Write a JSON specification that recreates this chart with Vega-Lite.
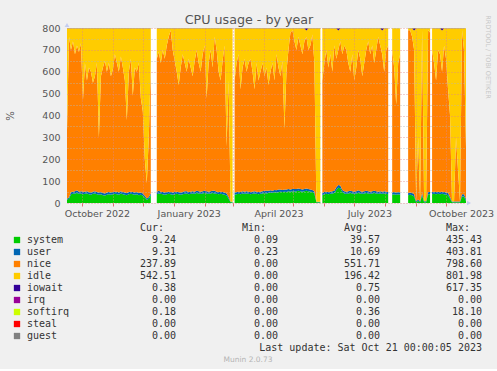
{
"$schema": "https://vega.github.io/schema/vega-lite/v6.json",
"background": "#F0F0F0",
"padding": {"left": 5, "top": 13, "right": 5, "bottom": 5},
"bounds": "flush",
"spacing": 25,
"config": {"view": {"stroke": null}, "font": "DejaVu Sans"},
"vconcat": [
{
"width": 399, "height": 175,
"view": {"fill": "white", "stroke": null},
"data": {"values": [
{"t":"2022-09-16","g":1,"system":15,"user":5,"nice":310,"idle":468,"iowait":0.5,"softirq":1.5},
{"t":"2022-09-18","g":1,"system":20,"user":6,"nice":734,"idle":38,"iowait":0.5,"softirq":1.5},
{"t":"2022-09-20","g":1,"system":40,"user":10,"nice":650,"idle":98,"iowait":0.5,"softirq":1.5},
{"t":"2022-09-22","g":1,"system":42,"user":10,"nice":688,"idle":58,"iowait":0.5,"softirq":1.5},
{"t":"2022-09-24","g":1,"system":44,"user":10,"nice":626,"idle":118,"iowait":0.5,"softirq":1.5},
{"t":"2022-09-26","g":1,"system":46,"user":12,"nice":662,"idle":78,"iowait":0.5,"softirq":1.5},
{"t":"2022-09-28","g":1,"system":42,"user":10,"nice":638,"idle":108,"iowait":0.5,"softirq":1.5},
{"t":"2022-09-30","g":1,"system":44,"user":10,"nice":676,"idle":68,"iowait":0.5,"softirq":1.5},
{"t":"2022-10-02","g":1,"system":40,"user":12,"nice":418,"idle":328,"iowait":0.5,"softirq":1.5},
{"t":"2022-10-04","g":1,"system":42,"user":10,"nice":588,"idle":158,"iowait":0.5,"softirq":1.5},
{"t":"2022-10-06","g":1,"system":44,"user":10,"nice":506,"idle":238,"iowait":0.5,"softirq":1.5},
{"t":"2022-10-08","g":1,"system":40,"user":10,"nice":570,"idle":178,"iowait":0.5,"softirq":1.5},
{"t":"2022-10-10","g":1,"system":38,"user":10,"nice":552,"idle":198,"iowait":0.5,"softirq":1.5},
{"t":"2022-10-12","g":1,"system":42,"user":10,"nice":498,"idle":248,"iowait":0.5,"softirq":1.5},
{"t":"2022-10-14","g":1,"system":44,"user":10,"nice":526,"idle":218,"iowait":0.5,"softirq":1.5},
{"t":"2022-10-16","g":1,"system":40,"user":10,"nice":590,"idle":158,"iowait":0.5,"softirq":1.5},
{"t":"2022-10-18","g":1,"system":38,"user":10,"nice":252,"idle":498,"iowait":0.5,"softirq":1.5},
{"t":"2022-10-20","g":1,"system":40,"user":10,"nice":530,"idle":218,"iowait":0.5,"softirq":1.5},
{"t":"2022-10-22","g":1,"system":36,"user":10,"nice":574,"idle":178,"iowait":0.5,"softirq":1.5},
{"t":"2022-10-24","g":1,"system":34,"user":10,"nice":606,"idle":148,"iowait":0.5,"softirq":1.5},
{"t":"2022-10-26","g":1,"system":38,"user":10,"nice":552,"idle":198,"iowait":0.5,"softirq":1.5},
{"t":"2022-10-28","g":1,"system":40,"user":10,"nice":590,"idle":158,"iowait":0.5,"softirq":1.5},
{"t":"2022-10-30","g":1,"system":38,"user":10,"nice":532,"idle":218,"iowait":0.5,"softirq":1.5},
{"t":"2022-11-01","g":1,"system":40,"user":10,"nice":560,"idle":188,"iowait":0.5,"softirq":1.5},
{"t":"2022-11-03","g":1,"system":42,"user":10,"nice":628,"idle":118,"iowait":0.5,"softirq":1.5},
{"t":"2022-11-05","g":1,"system":40,"user":12,"nice":588,"idle":158,"iowait":0.5,"softirq":1.5},
{"t":"2022-11-07","g":1,"system":38,"user":10,"nice":552,"idle":198,"iowait":0.5,"softirq":1.5},
{"t":"2022-11-09","g":1,"system":44,"user":10,"nice":616,"idle":128,"iowait":0.5,"softirq":1.5},
{"t":"2022-11-11","g":1,"system":40,"user":10,"nice":570,"idle":178,"iowait":0.5,"softirq":1.5},
{"t":"2022-11-13","g":1,"system":38,"user":10,"nice":512,"idle":238,"iowait":0.5,"softirq":1.5},
{"t":"2022-11-15","g":1,"system":36,"user":10,"nice":334,"idle":418,"iowait":0.5,"softirq":1.5},
{"t":"2022-11-17","g":1,"system":40,"user":10,"nice":550,"idle":198,"iowait":0.5,"softirq":1.5},
{"t":"2022-11-19","g":1,"system":42,"user":10,"nice":608,"idle":138,"iowait":0.5,"softirq":1.5},
{"t":"2022-11-21","g":1,"system":40,"user":10,"nice":440,"idle":308,"iowait":0.5,"softirq":1.5},
{"t":"2022-11-23","g":1,"system":38,"user":10,"nice":572,"idle":178,"iowait":0.5,"softirq":1.5},
{"t":"2022-11-25","g":1,"system":40,"user":10,"nice":550,"idle":198,"iowait":0.5,"softirq":1.5},
{"t":"2022-11-27","g":1,"system":36,"user":10,"nice":594,"idle":158,"iowait":0.5,"softirq":1.5},
{"t":"2022-11-29","g":1,"system":38,"user":10,"nice":432,"idle":318,"iowait":0.5,"softirq":1.5},
{"t":"2022-12-01","g":1,"system":34,"user":10,"nice":376,"idle":378,"iowait":0.5,"softirq":1.5},
{"t":"2022-12-03","g":1,"system":25,"user":8,"nice":167,"idle":598,"iowait":0.5,"softirq":1.5},
{"t":"2022-12-05","g":1,"system":15,"user":6,"nice":69,"idle":708,"iowait":0.5,"softirq":1.5},
{"t":"2022-12-07","g":1,"system":20,"user":8,"nice":272,"idle":498,"iowait":0.5,"softirq":1.5},
{"t":"2022-12-09","g":1,"system":35,"user":10,"nice":595,"idle":158,"iowait":0.5,"softirq":1.5},
{"t":"2022-12-15","g":2,"system":40,"user":12,"nice":608,"idle":138,"iowait":0.5,"softirq":1.5},
{"t":"2022-12-17","g":2,"system":44,"user":12,"nice":634,"idle":108,"iowait":0.5,"softirq":1.5},
{"t":"2022-12-19","g":2,"system":42,"user":10,"nice":588,"idle":158,"iowait":0.5,"softirq":1.5},
{"t":"2022-12-21","g":2,"system":40,"user":10,"nice":650,"idle":98,"iowait":0.5,"softirq":1.5},
{"t":"2022-12-23","g":2,"system":38,"user":10,"nice":612,"idle":138,"iowait":0.5,"softirq":1.5},
{"t":"2022-12-25","g":2,"system":40,"user":10,"nice":670,"idle":78,"iowait":0.5,"softirq":1.5},
{"t":"2022-12-27","g":2,"system":42,"user":10,"nice":708,"idle":38,"iowait":0.5,"softirq":1.5},
{"t":"2022-12-29","g":2,"system":40,"user":10,"nice":740,"idle":8,"iowait":0.5,"softirq":1.5},
{"t":"2022-12-31","g":2,"system":38,"user":10,"nice":652,"idle":98,"iowait":0.5,"softirq":1.5},
{"t":"2023-01-02","g":2,"system":40,"user":10,"nice":600,"idle":148,"iowait":0.5,"softirq":1.5},
{"t":"2023-01-04","g":2,"system":42,"user":10,"nice":548,"idle":198,"iowait":0.5,"softirq":1.5},
{"t":"2023-01-06","g":2,"system":40,"user":10,"nice":490,"idle":258,"iowait":0.5,"softirq":1.5},
{"t":"2023-01-08","g":2,"system":38,"user":10,"nice":572,"idle":178,"iowait":0.5,"softirq":1.5},
{"t":"2023-01-10","g":2,"system":40,"user":10,"nice":630,"idle":118,"iowait":0.5,"softirq":1.5},
{"t":"2023-01-12","g":2,"system":42,"user":12,"nice":586,"idle":158,"iowait":0.5,"softirq":1.5},
{"t":"2023-01-14","g":2,"system":44,"user":10,"nice":546,"idle":198,"iowait":0.5,"softirq":1.5},
{"t":"2023-01-16","g":2,"system":40,"user":10,"nice":610,"idle":138,"iowait":0.5,"softirq":1.5},
{"t":"2023-01-18","g":2,"system":42,"user":10,"nice":568,"idle":178,"iowait":0.5,"softirq":1.5},
{"t":"2023-01-20","g":2,"system":44,"user":10,"nice":526,"idle":218,"iowait":0.5,"softirq":1.5},
{"t":"2023-01-22","g":2,"system":42,"user":10,"nice":598,"idle":148,"iowait":0.5,"softirq":1.5},
{"t":"2023-01-24","g":2,"system":46,"user":10,"nice":644,"idle":98,"iowait":0.5,"softirq":1.5},
{"t":"2023-01-26","g":2,"system":44,"user":10,"nice":586,"idle":158,"iowait":0.5,"softirq":1.5},
{"t":"2023-01-28","g":2,"system":42,"user":10,"nice":548,"idle":198,"iowait":0.5,"softirq":1.5},
{"t":"2023-01-30","g":2,"system":44,"user":10,"nice":626,"idle":118,"iowait":0.5,"softirq":1.5},
{"t":"2023-02-01","g":2,"system":46,"user":10,"nice":664,"idle":78,"iowait":0.5,"softirq":1.5},
{"t":"2023-02-03","g":2,"system":44,"user":10,"nice":426,"idle":318,"iowait":0.5,"softirq":1.5},
{"t":"2023-02-05","g":2,"system":42,"user":10,"nice":588,"idle":158,"iowait":0.5,"softirq":1.5},
{"t":"2023-02-07","g":2,"system":44,"user":10,"nice":646,"idle":98,"iowait":0.5,"softirq":1.5},
{"t":"2023-02-09","g":2,"system":46,"user":10,"nice":564,"idle":178,"iowait":0.5,"softirq":1.5},
{"t":"2023-02-11","g":2,"system":44,"user":12,"nice":704,"idle":38,"iowait":0.5,"softirq":1.5},
{"t":"2023-02-13","g":2,"system":42,"user":10,"nice":648,"idle":98,"iowait":0.5,"softirq":1.5},
{"t":"2023-02-15","g":2,"system":40,"user":10,"nice":550,"idle":198,"iowait":0.5,"softirq":1.5},
{"t":"2023-02-17","g":2,"system":42,"user":10,"nice":508,"idle":238,"iowait":0.5,"softirq":1.5},
{"t":"2023-02-19","g":2,"system":40,"user":10,"nice":600,"idle":148,"iowait":0.5,"softirq":1.5},
{"t":"2023-02-21","g":2,"system":38,"user":10,"nice":672,"idle":78,"iowait":0.5,"softirq":1.5},
{"t":"2023-02-23","g":2,"system":34,"user":10,"nice":216,"idle":538,"iowait":0.5,"softirq":1.5},
{"t":"2023-02-25","g":2,"system":20,"user":8,"nice":532,"idle":238,"iowait":0.5,"softirq":1.5},
{"t":"2023-02-27","g":2,"system":3,"user":3,"nice":0,"idle":792,"iowait":0.5,"softirq":1.5},
{"t":"2023-03-01","g":2,"system":3,"user":3,"nice":0,"idle":792,"iowait":0.5,"softirq":1.5},
{"t":"2023-03-03","g":3,"system":38,"user":10,"nice":512,"idle":238,"iowait":0.5,"softirq":1.5},
{"t":"2023-03-05","g":3,"system":40,"user":10,"nice":590,"idle":158,"iowait":0.5,"softirq":1.5},
{"t":"2023-03-07","g":3,"system":42,"user":10,"nice":628,"idle":118,"iowait":0.5,"softirq":1.5},
{"t":"2023-03-09","g":3,"system":40,"user":10,"nice":470,"idle":278,"iowait":0.5,"softirq":1.5},
{"t":"2023-03-11","g":3,"system":44,"user":10,"nice":566,"idle":178,"iowait":0.5,"softirq":1.5},
{"t":"2023-03-13","g":3,"system":42,"user":10,"nice":608,"idle":138,"iowait":0.5,"softirq":1.5},
{"t":"2023-03-15","g":3,"system":44,"user":10,"nice":546,"idle":198,"iowait":0.5,"softirq":1.5},
{"t":"2023-03-17","g":3,"system":42,"user":10,"nice":588,"idle":158,"iowait":0.5,"softirq":1.5},
{"t":"2023-03-19","g":3,"system":40,"user":10,"nice":610,"idle":138,"iowait":0.5,"softirq":1.5},
{"t":"2023-03-21","g":3,"system":42,"user":10,"nice":548,"idle":198,"iowait":0.5,"softirq":1.5},
{"t":"2023-03-23","g":3,"system":44,"user":10,"nice":466,"idle":278,"iowait":0.5,"softirq":1.5},
{"t":"2023-03-25","g":3,"system":42,"user":10,"nice":588,"idle":158,"iowait":0.5,"softirq":1.5},
{"t":"2023-03-27","g":3,"system":40,"user":10,"nice":510,"idle":238,"iowait":0.5,"softirq":1.5},
{"t":"2023-03-29","g":3,"system":42,"user":10,"nice":548,"idle":198,"iowait":0.5,"softirq":1.5},
{"t":"2023-03-31","g":3,"system":44,"user":10,"nice":586,"idle":158,"iowait":0.5,"softirq":1.5},
{"t":"2023-04-02","g":3,"system":46,"user":10,"nice":524,"idle":218,"iowait":0.5,"softirq":1.5},
{"t":"2023-04-04","g":3,"system":44,"user":12,"nice":564,"idle":178,"iowait":0.5,"softirq":1.5},
{"t":"2023-04-06","g":3,"system":46,"user":10,"nice":484,"idle":258,"iowait":0.5,"softirq":1.5},
{"t":"2023-04-08","g":3,"system":48,"user":10,"nice":542,"idle":198,"iowait":0.5,"softirq":1.5},
{"t":"2023-04-10","g":3,"system":46,"user":10,"nice":584,"idle":158,"iowait":0.5,"softirq":1.5},
{"t":"2023-04-12","g":3,"system":50,"user":10,"nice":500,"idle":238,"iowait":0.5,"softirq":1.5},
{"t":"2023-04-14","g":3,"system":48,"user":10,"nice":622,"idle":118,"iowait":0.5,"softirq":1.5},
{"t":"2023-04-16","g":3,"system":50,"user":12,"nice":558,"idle":178,"iowait":0.5,"softirq":1.5},
{"t":"2023-04-18","g":3,"system":52,"user":10,"nice":518,"idle":218,"iowait":0.5,"softirq":1.5},
{"t":"2023-04-20","g":3,"system":50,"user":10,"nice":590,"idle":148,"iowait":0.5,"softirq":1.5},
{"t":"2023-04-22","g":3,"system":52,"user":10,"nice":278,"idle":458,"iowait":0.5,"softirq":1.5},
{"t":"2023-04-24","g":3,"system":50,"user":12,"nice":538,"idle":198,"iowait":0.5,"softirq":1.5},
{"t":"2023-04-26","g":3,"system":54,"user":10,"nice":636,"idle":98,"iowait":0.5,"softirq":1.5},
{"t":"2023-04-28","g":3,"system":52,"user":10,"nice":718,"idle":18,"iowait":0.5,"softirq":1.5},
{"t":"2023-04-30","g":3,"system":54,"user":10,"nice":726,"idle":8,"iowait":0.5,"softirq":1.5},
{"t":"2023-05-02","g":3,"system":52,"user":12,"nice":676,"idle":58,"iowait":0.5,"softirq":1.5},
{"t":"2023-05-04","g":3,"system":54,"user":10,"nice":636,"idle":98,"iowait":0.5,"softirq":1.5},
{"t":"2023-05-06","g":3,"system":56,"user":10,"nice":694,"idle":38,"iowait":0.5,"softirq":1.5},
{"t":"2023-05-08","g":3,"system":54,"user":10,"nice":656,"idle":78,"iowait":0.5,"softirq":1.5},
{"t":"2023-05-10","g":3,"system":52,"user":10,"nice":618,"idle":118,"iowait":0.5,"softirq":1.5},
{"t":"2023-05-12","g":3,"system":54,"user":10,"nice":676,"idle":58,"iowait":0.5,"softirq":1.5},
{"t":"2023-05-14","g":3,"system":56,"user":10,"nice":694,"idle":28.5,"iowait":10,"softirq":1.5},
{"t":"2023-05-16","g":3,"system":54,"user":10,"nice":636,"idle":98,"iowait":0.5,"softirq":1.5},
{"t":"2023-05-18","g":3,"system":52,"user":10,"nice":658,"idle":78,"iowait":0.5,"softirq":1.5},
{"t":"2023-05-20","g":3,"system":50,"user":10,"nice":710,"idle":28,"iowait":0.5,"softirq":1.5},
{"t":"2023-05-22","g":3,"system":44,"user":10,"nice":586,"idle":158,"iowait":0.5,"softirq":1.5},
{"t":"2023-05-24","g":3,"system":3,"user":3,"nice":0,"idle":792,"iowait":0.5,"softirq":1.5},
{"t":"2023-05-26","g":3,"system":3,"user":3,"nice":0,"idle":792,"iowait":0.5,"softirq":1.5},
{"t":"2023-05-28","g":3,"system":3,"user":3,"nice":0,"idle":792,"iowait":0.5,"softirq":1.5},
{"t":"2023-05-30","g":4,"system":36,"user":10,"nice":514,"idle":238,"iowait":0.5,"softirq":1.5},
{"t":"2023-06-01","g":4,"system":40,"user":10,"nice":590,"idle":158,"iowait":0.5,"softirq":1.5},
{"t":"2023-06-03","g":4,"system":42,"user":10,"nice":648,"idle":98,"iowait":0.5,"softirq":1.5},
{"t":"2023-06-05","g":4,"system":40,"user":10,"nice":570,"idle":178,"iowait":0.5,"softirq":1.5},
{"t":"2023-06-07","g":4,"system":42,"user":10,"nice":628,"idle":118,"iowait":0.5,"softirq":1.5},
{"t":"2023-06-09","g":4,"system":44,"user":10,"nice":546,"idle":198,"iowait":0.5,"softirq":1.5},
{"t":"2023-06-11","g":4,"system":46,"user":10,"nice":664,"idle":78,"iowait":0.5,"softirq":1.5},
{"t":"2023-06-13","g":4,"system":60,"user":12,"nice":588,"idle":138,"iowait":0.5,"softirq":1.5},
{"t":"2023-06-15","g":4,"system":70,"user":12,"nice":618,"idle":88.5,"iowait":10,"softirq":1.5},
{"t":"2023-06-17","g":4,"system":68,"user":12,"nice":660,"idle":58,"iowait":0.5,"softirq":1.5},
{"t":"2023-06-19","g":4,"system":50,"user":10,"nice":620,"idle":118,"iowait":0.5,"softirq":1.5},
{"t":"2023-06-21","g":4,"system":44,"user":10,"nice":666,"idle":78,"iowait":0.5,"softirq":1.5},
{"t":"2023-06-23","g":4,"system":42,"user":10,"nice":648,"idle":98,"iowait":0.5,"softirq":1.5},
{"t":"2023-06-25","g":4,"system":44,"user":10,"nice":586,"idle":158,"iowait":0.5,"softirq":1.5},
{"t":"2023-06-27","g":4,"system":46,"user":10,"nice":544,"idle":198,"iowait":0.5,"softirq":1.5},
{"t":"2023-06-29","g":4,"system":44,"user":10,"nice":626,"idle":118,"iowait":0.5,"softirq":1.5},
{"t":"2023-07-01","g":4,"system":42,"user":10,"nice":508,"idle":238,"iowait":0.5,"softirq":1.5},
{"t":"2023-07-03","g":4,"system":44,"user":10,"nice":566,"idle":178,"iowait":0.5,"softirq":1.5},
{"t":"2023-07-05","g":4,"system":46,"user":12,"nice":642,"idle":98,"iowait":0.5,"softirq":1.5},
{"t":"2023-07-07","g":4,"system":44,"user":10,"nice":606,"idle":138,"iowait":0.5,"softirq":1.5},
{"t":"2023-07-09","g":4,"system":42,"user":10,"nice":528,"idle":218,"iowait":0.5,"softirq":1.5},
{"t":"2023-07-11","g":4,"system":44,"user":10,"nice":586,"idle":158,"iowait":0.5,"softirq":1.5},
{"t":"2023-07-13","g":4,"system":46,"user":10,"nice":644,"idle":98,"iowait":0.5,"softirq":1.5},
{"t":"2023-07-15","g":4,"system":44,"user":10,"nice":686,"idle":58,"iowait":0.5,"softirq":1.5},
{"t":"2023-07-17","g":4,"system":42,"user":10,"nice":628,"idle":118,"iowait":0.5,"softirq":1.5},
{"t":"2023-07-19","g":4,"system":44,"user":10,"nice":666,"idle":78,"iowait":0.5,"softirq":1.5},
{"t":"2023-07-21","g":4,"system":46,"user":10,"nice":584,"idle":158,"iowait":0.5,"softirq":1.5},
{"t":"2023-07-23","g":4,"system":44,"user":10,"nice":646,"idle":98,"iowait":0.5,"softirq":1.5},
{"t":"2023-07-25","g":4,"system":42,"user":10,"nice":708,"idle":38,"iowait":0.5,"softirq":1.5},
{"t":"2023-07-27","g":4,"system":44,"user":10,"nice":666,"idle":78,"iowait":0.5,"softirq":1.5},
{"t":"2023-07-29","g":4,"system":42,"user":10,"nice":628,"idle":108.5,"iowait":10,"softirq":1.5},
{"t":"2023-07-31","g":4,"system":44,"user":10,"nice":546,"idle":198,"iowait":0.5,"softirq":1.5},
{"t":"2023-08-02","g":4,"system":42,"user":10,"nice":648,"idle":98,"iowait":0.5,"softirq":1.5},
{"t":"2023-08-04","g":4,"system":40,"user":10,"nice":670,"idle":78,"iowait":0.5,"softirq":1.5},
{"t":"2023-08-08","g":5,"system":38,"user":10,"nice":652,"idle":98,"iowait":0.5,"softirq":1.5},
{"t":"2023-08-10","g":5,"system":40,"user":10,"nice":570,"idle":178,"iowait":0.5,"softirq":1.5},
{"t":"2023-08-12","g":5,"system":38,"user":10,"nice":402,"idle":348,"iowait":0.5,"softirq":1.5},
{"t":"2023-08-14","g":5,"system":40,"user":10,"nice":590,"idle":158,"iowait":0.5,"softirq":1.5},
{"t":"2023-08-16","g":5,"system":38,"user":10,"nice":632,"idle":118,"iowait":0.5,"softirq":1.5},
{"t":"2023-08-24","g":6,"system":36,"user":10,"nice":744,"idle":8,"iowait":0.5,"softirq":1.5},
{"t":"2023-08-26","g":6,"system":38,"user":10,"nice":742,"idle":8,"iowait":0.5,"softirq":1.5},
{"t":"2023-08-28","g":6,"system":36,"user":10,"nice":714,"idle":38,"iowait":0.5,"softirq":1.5},
{"t":"2023-08-30","g":6,"system":30,"user":10,"nice":660,"idle":88.5,"iowait":10,"softirq":1.5},
{"t":"2023-09-01","g":6,"system":4,"user":4,"nice":0,"idle":790,"iowait":0.5,"softirq":1.5},
{"t":"2023-09-03","g":6,"system":10,"user":6,"nice":284,"idle":498,"iowait":0.5,"softirq":1.5},
{"t":"2023-09-05","g":6,"system":4,"user":4,"nice":0,"idle":790,"iowait":0.5,"softirq":1.5},
{"t":"2023-09-07","g":6,"system":36,"user":10,"nice":744,"idle":8,"iowait":0.5,"softirq":1.5},
{"t":"2023-09-09","g":6,"system":4,"user":4,"nice":0,"idle":790,"iowait":0.5,"softirq":1.5},
{"t":"2023-09-11","g":6,"system":4,"user":4,"nice":0,"idle":790,"iowait":0.5,"softirq":1.5},
{"t":"2023-09-13","g":6,"system":40,"user":10,"nice":740,"idle":8,"iowait":0.5,"softirq":1.5},
{"t":"2023-09-15","g":6,"system":40,"user":10,"nice":730,"idle":18,"iowait":0.5,"softirq":1.5},
{"t":"2023-09-17","g":7,"system":40,"user":10,"nice":650,"idle":98,"iowait":0.5,"softirq":1.5},
{"t":"2023-09-19","g":7,"system":42,"user":10,"nice":588,"idle":158,"iowait":0.5,"softirq":1.5},
{"t":"2023-09-21","g":7,"system":40,"user":10,"nice":510,"idle":238,"iowait":0.5,"softirq":1.5},
{"t":"2023-09-23","g":7,"system":42,"user":10,"nice":648,"idle":98,"iowait":0.5,"softirq":1.5},
{"t":"2023-09-25","g":7,"system":40,"user":10,"nice":630,"idle":118,"iowait":0.5,"softirq":1.5},
{"t":"2023-09-27","g":7,"system":42,"user":10,"nice":548,"idle":188.5,"iowait":10,"softirq":1.5},
{"t":"2023-09-29","g":7,"system":40,"user":10,"nice":670,"idle":78,"iowait":0.5,"softirq":1.5},
{"t":"2023-10-01","g":7,"system":38,"user":10,"nice":612,"idle":138,"iowait":0.5,"softirq":1.5},
{"t":"2023-10-03","g":7,"system":36,"user":10,"nice":474,"idle":278,"iowait":0.5,"softirq":1.5},
{"t":"2023-10-05","g":7,"system":20,"user":8,"nice":372,"idle":398,"iowait":0.5,"softirq":1.5},
{"t":"2023-10-07","g":7,"system":3,"user":4,"nice":0,"idle":791,"iowait":0.5,"softirq":1.5},
{"t":"2023-10-09","g":7,"system":3,"user":4,"nice":0,"idle":791,"iowait":0.5,"softirq":1.5},
{"t":"2023-10-11","g":7,"system":3,"user":4,"nice":293,"idle":498,"iowait":0.5,"softirq":1.5},
{"t":"2023-10-13","g":7,"system":3,"user":4,"nice":143,"idle":648,"iowait":0.5,"softirq":1.5},
{"t":"2023-10-15","g":7,"system":3,"user":4,"nice":0,"idle":791,"iowait":0.5,"softirq":1.5},
{"t":"2023-10-17","g":7,"system":30,"user":10,"nice":750,"idle":8,"iowait":0.5,"softirq":1.5},
{"t":"2023-10-19","g":7,"system":30,"user":10,"nice":660,"idle":98,"iowait":0.5,"softirq":1.5},
{"t":"2023-10-21","g":7,"system":9.24,"user":9.31,"nice":237.89,"idle":542.51,"iowait":0.38,"softirq":0.18}
]},
"layer": [
{
"transform": [
{"fold": ["system","user","nice","idle","iowait","softirq"], "as": ["k","v"]},
{"lookup": "k", "from": {"data": {"values": [{"k":"system","o":1},{"k":"user","o":2},{"k":"nice","o":3},{"k":"idle","o":4},{"k":"iowait","o":5},{"k":"softirq","o":6}]}, "key": "k", "fields": ["o"]}}
],
"encoding": {
"x": {"field": "t", "type": "temporal",
 "scale": {"domain": [{"year":2022,"month":9,"date":16,"utc":true},{"year":2023,"month":10,"date":21,"utc":true}]},
 "axis": {"title": null,
  "values": [{"year":2022,"month":10,"date":1,"utc":true},{"year":2022,"month":11,"date":1,"utc":true},{"year":2022,"month":12,"date":1,"utc":true},{"year":2023,"month":1,"date":1,"utc":true},{"year":2023,"month":2,"date":1,"utc":true},{"year":2023,"month":3,"date":1,"utc":true},{"year":2023,"month":4,"date":1,"utc":true},{"year":2023,"month":5,"date":1,"utc":true},{"year":2023,"month":6,"date":1,"utc":true},{"year":2023,"month":7,"date":1,"utc":true},{"year":2023,"month":8,"date":1,"utc":true},{"year":2023,"month":9,"date":1,"utc":true},{"year":2023,"month":10,"date":1,"utc":true}],
  "labelExpr": "utcmonth(datum.value) % 3 == 0 ? utcFormat(datum.value, '%B %Y') : ''",
  "labelOffset": 15, "labelFlush": false, "labelOverlap": false,
  "labelFont": "DejaVu Sans", "labelFontSize": 9.5, "labelColor": "#555555", "labelPadding": 2,
  "tickColor": "#E07070", "tickSize": 3, "domain": false,
  "grid": true, "gridColor": "#E08888", "gridDash": [1,2], "gridOpacity": 0.8, "zindex": 1}},
"y": {"field": "v", "type": "quantitative", "stack": "zero",
 "scale": {"domain": [0,800], "nice": false},
 "axis": {"values": [0,50,100,150,200,250,300,350,400,450,500,550,600,650,700,750,800],
  "labelExpr": "datum.value % 100 == 0 ? datum.label : ''",
  "title": "%", "titleX": -57, "titleY": 87.5, "titleAngle": -90, "titleAlign": "center", "titleBaseline": "middle",
  "titleFont": "DejaVu Sans", "titleFontSize": 10, "titleFontWeight": "normal", "titleColor": "#555555",
  "labelFont": "DejaVu Sans", "labelFontSize": 9.5, "labelColor": "#555555", "labelPadding": 7, "labelFlush": false,
  "ticks": false, "domain": false, "grid": true,
  "gridColor": {"condition": {"test": "datum.value % 100 == 0", "value": "#E08888"}, "value": "#B8B8B8"},
  "gridDash": [1,2], "gridOpacity": 0.8, "zindex": 1}},
"color": {"field": "k", "type": "nominal",
 "scale": {"domain": ["system","user","nice","idle","iowait","irq","softirq","steal","guest"], "range": ["#00CC00","#0066B3","#FF8000","#FFCC00","#330099","#990099","#CCFF00","#FF0000","#808080"]},
 "legend": null},
"order": {"field": "o", "type": "quantitative"}
},
"layer": [
{"transform": [{"filter": "datum.g == 1"}], "mark": {"type": "area", "interpolate": "linear"}},
{"transform": [{"filter": "datum.g == 2"}], "mark": {"type": "area", "interpolate": "linear"}},
{"transform": [{"filter": "datum.g == 3"}], "mark": {"type": "area", "interpolate": "linear"}},
{"transform": [{"filter": "datum.g == 4"}], "mark": {"type": "area", "interpolate": "linear"}},
{"transform": [{"filter": "datum.g == 5"}], "mark": {"type": "area", "interpolate": "linear"}},
{"transform": [{"filter": "datum.g == 6"}], "mark": {"type": "area", "interpolate": "linear"}},
{"transform": [{"filter": "datum.g == 7"}], "mark": {"type": "area", "interpolate": "linear"}}
]
},
{
"data": {"values": [{"a": 1}]},
"mark": {"type": "point", "opacity": 0},
"encoding": {
"x": {"datum": {"year":2023,"month":1,"date":1,"utc":true}, "type": "temporal",
 "axis": {"orient": "top", "title": "CPU usage - by year", "labels": false, "ticks": false, "domain": false, "grid": false,
  "titleX": 181.5, "titleY": -5, "titleAlign": "center", "titleBaseline": "alphabetic",
  "titleFont": "DejaVu Sans", "titleFontSize": 12.7, "titleFontWeight": "normal", "titleColor": "#555555"}},
"y": {"datum": 0, "type": "quantitative",
 "axis": {"orient": "right", "title": "RRDTOOL / TOBI OETIKER", "labels": false, "ticks": false, "domain": false, "grid": false,
  "titleX": 21, "titleY": 28.5, "titleAngle": 90, "titleAlign": "center", "titleBaseline": "middle",
  "titleFont": "DejaVu Sans", "titleFontSize": 6.5, "titleFontWeight": "normal", "titleColor": "#C8C8C8"}}
}
},
{
"data": {"values": [{"a": 1}]},
"mark": {"type": "point", "shape": "triangle-up", "filled": true, "size": 22, "opacity": 1, "color": "#C4CCF0", "yOffset": -3},
"encoding": {
"x": {"datum": {"year":2022,"month":9,"date":16,"utc":true}, "type": "temporal", "axis": null},
"y": {"datum": 800, "type": "quantitative", "axis": null}
}
},
{
"data": {"values": [{"a": 1}]},
"mark": {"type": "point", "shape": "triangle-right", "filled": true, "size": 22, "opacity": 1, "color": "#C4CCF0", "xOffset": 3},
"encoding": {
"x": {"datum": {"year":2023,"month":10,"date":21,"utc":true}, "type": "temporal", "axis": null},
"y": {"datum": 0, "type": "quantitative", "axis": null}
}
}
],
"resolve": {"axis": {"x": "independent", "y": "independent"}}
},
{
"width": 399, "height": 132,
"data": {"values": [
{"r":"system","Cur":"9.24","Min":"0.09","Avg":"39.57","Max":"435.43"},
{"r":"user","Cur":"9.31","Min":"0.23","Avg":"10.69","Max":"403.81"},
{"r":"nice","Cur":"237.89","Min":"0.00","Avg":"551.71","Max":"798.60"},
{"r":"idle","Cur":"542.51","Min":"0.00","Avg":"196.42","Max":"801.98"},
{"r":"iowait","Cur":"0.38","Min":"0.00","Avg":"0.75","Max":"617.35"},
{"r":"irq","Cur":"0.00","Min":"0.00","Avg":"0.00","Max":"0.00"},
{"r":"softirq","Cur":"0.18","Min":"0.00","Avg":"0.36","Max":"18.10"},
{"r":"steal","Cur":"0.00","Min":"0.00","Avg":"0.00","Max":"0.00"},
{"r":"guest","Cur":"0.00","Min":"0.00","Avg":"0.00","Max":"0.00"}
]},
"layer": [
{
"transform": [{"fold": ["Cur","Min","Avg","Max"], "as": ["c","val"]}],
"mark": {"type": "text", "align": "right", "baseline": "middle", "font": "DejaVu Sans Mono", "fontSize": 10, "color": "#333333"},
"encoding": {
"x": {"field": "c", "type": "nominal", "scale": {"type": "point", "domain": ["Cur","Min","Avg","Max"], "range": [109, 415], "padding": 0}, "axis": null},
"y": {"field": "r", "type": "nominal", "scale": {"type": "point", "domain": ["head","system","user","nice","idle","iowait","irq","softirq","steal","guest","upd","munin"], "padding": 0}, "axis": null},
"text": {"field": "val"}
}
},
{
"mark": {"type": "text", "align": "left", "baseline": "middle", "font": "DejaVu Sans Mono", "fontSize": 10, "color": "#333333", "dx": -149},
"encoding": {
"x": {"datum": "Cur", "type": "nominal"},
"y": {"field": "r", "type": "nominal"},
"text": {"field": "r"}
}
},
{
"mark": {"type": "point", "shape": "square", "filled": true, "size": 40, "opacity": 1, "xOffset": -159},
"encoding": {
"x": {"datum": "Cur", "type": "nominal"},
"y": {"field": "r", "type": "nominal"},
"color": {"field": "r", "type": "nominal",
 "scale": {"domain": ["system","user","nice","idle","iowait","irq","softirq","steal","guest"], "range": ["#00CC00","#0066B3","#FF8000","#FFCC00","#330099","#990099","#CCFF00","#FF0000","#808080"]},
 "legend": null}
}
},
{
"data": {"values": [{"c":"Cur","h":"Cur:"},{"c":"Min","h":"Min:"},{"c":"Avg","h":"Avg:"},{"c":"Max","h":"Max:"}]},
"mark": {"type": "text", "align": "right", "baseline": "middle", "font": "DejaVu Sans Mono", "fontSize": 10, "color": "#333333", "dx": -12},
"encoding": {
"x": {"field": "c", "type": "nominal"},
"y": {"datum": "head", "type": "nominal"},
"text": {"field": "h"}
}
},
{
"data": {"values": [{"txt": "Last update: Sat Oct 21 00:00:05 2023"}]},
"mark": {"type": "text", "align": "right", "baseline": "middle", "font": "DejaVu Sans Mono", "fontSize": 10, "color": "#333333"},
"encoding": {
"x": {"datum": "Max", "type": "nominal"},
"y": {"datum": "upd", "type": "nominal"},
"text": {"field": "txt"}
}
},
{
"data": {"values": [{"txt": "Munin 2.0.73"}]},
"mark": {"type": "text", "align": "center", "baseline": "middle", "font": "DejaVu Sans", "fontSize": 7.5, "color": "#B4B4B4", "dx": -30},
"encoding": {
"x": {"datum": "Min", "type": "nominal"},
"y": {"datum": "munin", "type": "nominal"},
"text": {"field": "txt"}
}
}
]
}
]
}
